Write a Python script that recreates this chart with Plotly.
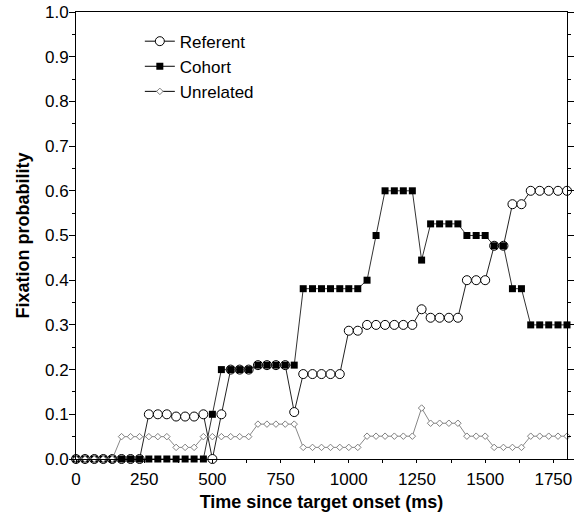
import plotly.graph_objects as go

time_ms = [0, 33, 67, 100, 133, 167, 200, 233, 267, 300, 333, 367, 400, 433, 467,
           500, 533, 567, 600, 633, 667, 700, 733, 767, 800, 833, 867, 900, 933, 967,
           1000, 1033, 1067, 1100, 1133, 1167, 1200, 1233, 1267, 1300, 1333, 1367,
           1400, 1433, 1467, 1500, 1533, 1567, 1600, 1633, 1667, 1700, 1733, 1767, 1800]

referent = [0, 0, 0, 0, 0, 0, 0, 0,
            0.10, 0.10, 0.10, 0.095, 0.095, 0.095, 0.10, 0, 0.10,
            0.20, 0.20, 0.20, 0.21, 0.21, 0.21, 0.21, 0.105,
            0.19, 0.19, 0.19, 0.19, 0.19, 0.287, 0.287,
            0.30, 0.30, 0.30, 0.30, 0.30, 0.30, 0.335,
            0.316, 0.316, 0.316, 0.316, 0.40, 0.40, 0.40,
            0.477, 0.477, 0.57, 0.57, 0.60, 0.60, 0.60, 0.60, 0.60]

cohort = [0, 0, 0, 0, 0, 0, 0, 0, 0, 0, 0, 0, 0, 0, 0,
          0.10, 0.20, 0.20, 0.20, 0.20, 0.21, 0.21, 0.21, 0.21, 0.21,
          0.381, 0.381, 0.381, 0.381, 0.381, 0.381, 0.381, 0.40, 0.50,
          0.60, 0.60, 0.60, 0.60, 0.445, 0.526, 0.526, 0.526, 0.526,
          0.50, 0.50, 0.50, 0.477, 0.477, 0.381, 0.381,
          0.30, 0.30, 0.30, 0.30, 0.30]

unrelated = [0, 0, 0, 0, 0,
             0.05, 0.05, 0.05, 0.05, 0.05, 0.05, 0.026, 0.026, 0.026,
             0.05, 0.05, 0.05, 0.05, 0.05, 0.05,
             0.078, 0.078, 0.078, 0.078, 0.078,
             0.026, 0.026, 0.026, 0.026, 0.026, 0.026, 0.026,
             0.051, 0.051, 0.051, 0.051, 0.051, 0.051, 0.114,
             0.08, 0.08, 0.08, 0.08, 0.051, 0.051, 0.051,
             0.026, 0.026, 0.026, 0.026, 0.051, 0.051, 0.051, 0.051, 0.051]

series_names = ["Referent", "Cohort", "Unrelated"]
x_ticks = [0, 250, 500, 750, 1000, 1250, 1500, 1750]
y_ticks = [0.0, 0.1, 0.2, 0.3, 0.4, 0.5, 0.6, 0.7, 0.8, 0.9, 1.0]
y_tick_text = [f"{v:.1f}" for v in y_ticks]

FONT = "Liberation Sans, Arial, sans-serif"

markers = [
    dict(symbol="circle", size=9, color="white", line=dict(color="black", width=1)),
    dict(symbol="square", size=7, color="black", line=dict(color="black", width=0)),
    dict(symbol="diamond", size=5, color="white", line=dict(color="#808080", width=1)),
]
line_colors = ["#222222", "#333333", "#888888"]

fig = go.Figure()
for name, ys, mk, lc in zip(series_names, [referent, cohort, unrelated], markers, line_colors):
    fig.add_trace(go.Scatter(
        x=time_ms, y=ys, name=name, mode="lines+markers", cliponaxis=False,
        line=dict(color=lc, width=1), marker=mk, showlegend=False,
    ))
# legend entries (black lines, as in the original key)
for name, mk in zip(series_names, markers):
    fig.add_trace(go.Scatter(
        x=[None], y=[None], name=name, mode="lines+markers",
        line=dict(color="black", width=1), marker=mk, showlegend=True,
    ))

fig.update_layout(
    width=582, height=516,
    margin=dict(l=76, r=15, t=12, b=57),
    paper_bgcolor="white", plot_bgcolor="white",
    font=dict(family=FONT, size=17, color="black"),
    legend=dict(x=0.13, y=0.974, xanchor="left", yanchor="top",
                bgcolor="rgba(0,0,0,0)", borderwidth=0,
                font=dict(family=FONT, size=17, color="black"),
                itemwidth=30),
)
fig.update_xaxes(
    range=[0, 1800], tickvals=x_ticks, ticktext=[str(v) for v in x_ticks],
    showgrid=False, zeroline=False, automargin=False,
    showline=True, linecolor="black", linewidth=1, mirror=True,
    ticks="outside", ticklen=3, tickcolor="black",
    minor=dict(dtick=125, ticks="outside", ticklen=3, tickcolor="black", showgrid=False),
    tickfont=dict(family=FONT, size=17), ticklabelstandoff=2,
    title=dict(text="Time since target onset (ms)", standoff=6,
               font=dict(family=FONT, size=18, weight="bold")),
)
fig.update_yaxes(
    range=[0, 1.0], tickvals=y_ticks, ticktext=y_tick_text,
    showgrid=False, zeroline=False, automargin=False,
    showline=True, linecolor="black", linewidth=1, mirror="ticks",
    ticks="outside", ticklen=6, tickcolor="black",
    minor=dict(dtick=0.05, ticks="outside", ticklen=3, tickcolor="black", showgrid=False),
    tickfont=dict(family=FONT, size=17), ticklabelstandoff=-3,
    title=dict(text="Fixation probability", standoff=10,
               font=dict(family=FONT, size=18, weight="bold")),
)

fig.write_html("out.html")
